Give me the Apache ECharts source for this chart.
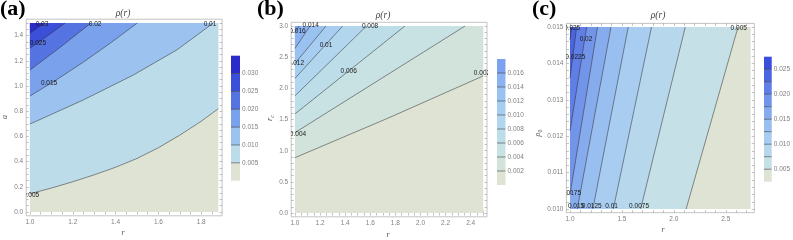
<!DOCTYPE html>
<html><head><meta charset="utf-8">
<script src="https://cdn.jsdelivr.net/npm/echarts@6/dist/echarts.min.js"></script>
<style>html,body{margin:0;padding:0;background:#fff}#c{width:793px;height:240px}</style>
</head><body><div id="c"></div><script>
// ---------------- panel (a) ----------------
const aXRange = [1.0, 1.88];
const aYRange = [0.0, 1.5];
const aBandEdges = [0, 0.005, 0.010, 0.015, 0.020, 0.025, 0.030, 0.035];
const aColors = ['#dfe3d3', '#bddcea', '#9cc3f0', '#7aa1ec', '#5574e2', '#3c4fd8', '#2a2bc8'];
const aLine005 = [[1.0,0.145],[1.1,0.19],[1.2,0.24],[1.3,0.295],[1.4,0.355],[1.5,0.425],[1.6,0.51],[1.7,0.61],[1.8,0.72],[1.88,0.82]];
const aLine010 = [[1.0,0.698],[1.249,0.889],[1.483,1.087],[1.686,1.286],[1.857,1.5]];
const aLine015 = [[1.0,0.92],[1.125,1.05],[1.25,1.19],[1.375,1.34],[1.502,1.5]];
const aLine020 = [[1.0,1.127],[1.14,1.305],[1.285,1.5]];
const aLine025 = [[1.0,1.30],[1.08,1.395],[1.164,1.5]];
const aLine030 = [[1.0,1.42],[1.07,1.5]];
const aLabels = [['0.03',1.056,1.49],['0.025',1.037,1.337],['0.02',1.304,1.49],['0.015',1.089,1.024],['0.01',1.841,1.49],['0.005',1.005,0.13]];
const aXTicks = [1.0, 1.2, 1.4, 1.6, 1.8];
const aYTicks = [0.0, 0.2, 0.4, 0.6, 0.8, 1.0, 1.2, 1.4];
const aBarLabels = [0.005, 0.010, 0.015, 0.020, 0.025, 0.030];

// ---------------- panel (b) ----------------
const bXRange = [1.0, 2.5];
const bYRange = [0.0, 3.0];
const bBandEdges = [0, 0.002, 0.004, 0.006, 0.008, 0.010, 0.012, 0.014, 0.016, 0.018];
const bColors = ['#dfe3d3', '#d2e3dc', '#c8e1e3', '#bddde9', '#b2d6ee', '#a7cdf0', '#9ac2f0', '#8bb3f0', '#7ca2ef'];
const bLine002 = [[1.0,0.888],[1.75,1.53],[2.5,2.20]];
const bLine004 = [[1.0,1.29],[2.355,3.0]];
const bLine006 = [[1.0,1.59],[1.876,3.0]];
const bLine008 = [[1.0,1.88],[1.57,3.0]];
const bLine010 = [[1.0,2.16],[1.38,3.0]];
const bLine012 = [[1.0,2.40],[1.247,3.0]];
const bLine014 = [[1.0,2.64],[1.12,3.0]];
const bLine016 = [[1.0,2.894],[1.035,3.0]];
const bLabels = [['0.016',1.02,2.91],['0.014',1.125,3.02],['0.012',1.008,2.41],['0.01',1.247,2.70],['0.008',1.598,3.0],['0.006',1.428,2.27],['0.004',1.024,1.263],['0.002',2.49,2.24]];
const bXTicks = [1.0, 1.2, 1.4, 1.6, 1.8, 2.0, 2.2, 2.4];
const bYTicks = [0.0, 0.5, 1.0, 1.5, 2.0, 2.5, 3.0];
const bBarLabels = [0.002, 0.004, 0.006, 0.008, 0.010, 0.012, 0.014, 0.016];

// ---------------- panel (c) ----------------
const cXRange = [1.0, 2.74];
const cYRange = [0.010, 0.015];
const cBandEdges = [0.0025, 0.005, 0.0075, 0.010, 0.0125, 0.015, 0.0175, 0.020, 0.0225, 0.025, 0.0275];
const cColors = ['#dfe3d3', '#c5e0e6', '#b7d8ec', '#a8cdf0', '#98bff0', '#86acee', '#7295ea', '#5f7ee6', '#4b65e0', '#3a4fda'];
const cLine0050 = [[2.118,0.010],[2.618,0.015]];
const cLine0075 = [[1.68,0.010],[2.11,0.015]];
const cLine0100 = [[1.417,0.010],[1.785,0.015]];
const cLine0125 = [[1.22,0.010],[1.561,0.015]];
const cLine0150 = [[1.07,0.010],[1.395,0.015]];
const cLine0175 = [[1.0,0.0104],[1.265,0.015]];
const cLine0200 = [[1.0,0.01214],[1.16,0.015]];
const cLine0225 = [[1.0,0.0136],[1.064,0.015]];
const cLine0250 = [[1.0,0.01465],[1.015,0.015]];
const cLabels = [['0.025',1.02,0.01497],['0.02',1.154,0.01466],['0.0225',1.051,0.01418],['0.0175',1.01,0.01043],['0.015',1.058,0.01007],['0.0125',1.209,0.01007],['0.01',1.40,0.01007],['0.0075',1.665,0.01007],['0.005',2.625,0.01498]];
const cXTicks = [1.0, 1.5, 2.0, 2.5];
const cYTicks = [0.010, 0.011, 0.012, 0.013, 0.014, 0.015];
const cBarLabels = [0.005, 0.010, 0.015, 0.020, 0.025];

// ---------------- helpers ----------------
const SANS = 'Liberation Sans';
const SERIF = 'Liberation Serif';
function padRange(r){ const d = (r[1]-r[0])*0.02; return [r[0]-d, r[1]+d]; }
function minorTicks(lo, hi, step){ const n = Math.round((hi-lo)/step); const out=[]; for(let i=0;i<=n;i++) out.push(+(lo+i*step).toFixed(7)); return out; }
function closeRegion(line, xr, yr){
  const ex = (xr[1]-xr[0])*1e-3, ey = (yr[1]-yr[0])*1e-3;
  const pts = line.slice();
  const first = pts[0], last = pts[pts.length-1];
  if (last[0] >= xr[1]-ex && last[1] < yr[1]-ey) pts.push([xr[1], yr[1]]);
  pts.push([xr[0], yr[1]]);
  if (first[1] <= yr[0]+ey && first[0] > xr[0]+ex) pts.push([xr[0], yr[0]]);
  return pts;
}

const panels = [
  {grid:{left:26.2, top:19.2, width:195.9, height:196.6}, xr:aXRange, yr:aYRange, colors:aColors,
   lines:[aLine005,aLine010,aLine015,aLine020,aLine025,aLine030], labels:aLabels,
   xTicks:aXTicks, yTicks:aYTicks, xMinor:0.05, yMinor:0.05, xDec:1, yDec:1,
   bar:{left:231, top:55.7, width:9, height:125}, edges:aBandEdges, barLabels:aBarLabels},
  {grid:{left:291.2, top:22.3, width:195.8, height:194.5}, xr:bXRange, yr:bYRange, colors:bColors,
   lines:[bLine002,bLine004,bLine006,bLine008,bLine010,bLine012,bLine014,bLine016], labels:bLabels,
   xTicks:bXTicks, yTicks:bYTicks, xMinor:0.05, yMinor:0.1, xDec:1, yDec:1,
   bar:{left:497, top:59, width:8.5, height:126}, edges:bBandEdges, barLabels:bBarLabels},
  {grid:{left:566.4, top:23.4, width:187.9, height:189.3}, xr:cXRange, yr:cYRange, colors:cColors,
   lines:[cLine0050,cLine0075,cLine0100,cLine0125,cLine0150,cLine0175,cLine0200,cLine0225,cLine0250], labels:cLabels,
   xTicks:cXTicks, yTicks:cYTicks, xMinor:0.1, yMinor:0.0002, xDec:1, yDec:3,
   bar:{left:764, top:56.7, width:8.5, height:125}, edges:cBandEdges, barLabels:cBarLabels}
];

const grid = [], xAxis = [], yAxis = [], series = [];
const tickStyle = {color:'#9a9a9a', width:0.6};
const labelStyle = {fontSize:6.5, color:'#808080', fontFamily:SANS};

panels.forEach((p, i) => {
  grid.push(Object.assign({show:true, borderColor:'#b4b4b4', borderWidth:0.8, backgroundColor:'transparent'}, p.grid));
  const px = padRange(p.xr), py = padRange(p.yr);
  const xm = minorTicks(Math.ceil(px[0]/p.xMinor)*p.xMinor, px[1], p.xMinor).filter(v=>v>=px[0]&&v<=px[1]);
  const ym = minorTicks(Math.ceil(py[0]/p.yMinor)*p.yMinor, py[1], p.yMinor).filter(v=>v>=py[0]&&v<=py[1]);
  ['bottom','top'].forEach(pos => xAxis.push({
    gridIndex:i, type:'value', position:pos, min:px[0], max:px[1],
    axisLine:{show:false}, splitLine:{show:false},
    axisTick:{show:true, inside:true, length:2.5, lineStyle:tickStyle, customValues:xm},
    axisLabel:{show:pos==='bottom', customValues:p.xTicks, formatter:v=>(+v).toFixed(p.xDec), margin:3, ...labelStyle}
  }));
  ['left','right'].forEach(pos => yAxis.push({
    gridIndex:i, type:'value', position:pos, min:py[0], max:py[1],
    axisLine:{show:false}, splitLine:{show:false},
    axisTick:{show:true, inside:true, length:2.5, lineStyle:tickStyle, customValues:ym},
    axisLabel:{show:pos==='left', customValues:p.yTicks, formatter:v=>(+v).toFixed(p.yDec), margin:3, ...labelStyle}
  }));
  const xr = p.xr, yr = p.yr;
  const polys = [[[xr[0],yr[0]],[xr[1],yr[0]],[xr[1],yr[1]],[xr[0],yr[1]]]].concat(p.lines.map(l => closeRegion(l, xr, yr)));
  series.push({
    type:'custom', xAxisIndex:2*i, yAxisIndex:2*i, clip:true, silent:true, z:2,
    data: polys.map(() => [xr[0], yr[0]]),
    renderItem: (params, api) => ({type:'polygon', z2:params.dataIndex,
      shape:{points: polys[params.dataIndex].map(pt => api.coord(pt))},
      style:{fill: p.colors[params.dataIndex]}})
  });
  p.lines.forEach(l => series.push({
    type:'line', xAxisIndex:2*i, yAxisIndex:2*i, data:l, symbol:'none', showSymbol:false, silent:true, z:3,
    lineStyle:{color:'rgba(45,45,45,0.65)', width:0.8}
  }));
  series.push({
    type:'custom', xAxisIndex:2*i, yAxisIndex:2*i, clip:true, silent:true, z:4,
    data: p.labels.map(l => [l[1], l[2]]),
    renderItem: (params, api) => { const c = api.coord([api.value(0), api.value(1)]);
      return {type:'text', x:c[0], y:c[1], style:{text:p.labels[params.dataIndex][0], fontSize:6.5, fontFamily:SANS, fill:'#1a1a1a', align:'center', verticalAlign:'middle'}}; }
  });
});

panels.forEach((p, i) => {
  const gi = 3 + i;
  grid.push(Object.assign({show:false}, p.bar));
  xAxis.push({gridIndex:gi, type:'value', min:0, max:1, show:false});
  const e = p.edges;
  yAxis.push({gridIndex:gi, type:'value', position:'right', min:e[0], max:e[e.length-1],
    axisLine:{show:false}, splitLine:{show:false},
    axisTick:{show:true, length:3, lineStyle:{color:'#777', width:0.7}, customValues:e.slice(1, e.length-1)},
    axisLabel:{show:true, customValues:p.barLabels, formatter:v=>(+v).toFixed(3), margin:2, ...labelStyle}
  });
  series.push({
    type:'custom', xAxisIndex:6+i, yAxisIndex:6+i, silent:true, z:2,
    data: p.colors.map((c,k) => [0, e[k]]),
    renderItem: (params, api) => { const k = params.dataIndex;
      const p0 = api.coord([0, e[k]]), p1 = api.coord([1, e[k+1]]);
      const ch = [{type:'rect', z2:0, shape:{x:p0[0], y:p1[1], width:p1[0]-p0[0], height:p0[1]-p1[1]}, style:{fill:p.colors[k]}}];
      if (k < p.colors.length-1) ch.push({type:'line', z2:10, shape:{x1:p0[0], y1:p1[1], x2:p1[0], y2:p1[1]}, style:{stroke:'rgba(60,60,60,0.7)', lineWidth:0.8}});
      return {type:'group', children:ch}; }
  });
});

const panelLabelFont = 'bold 22px "Liberation Serif"';
const titleFont = 'italic 9.5px "Liberation Serif"';
const nameFont = 'italic 8px "Liberation Serif"';
const graphic = [
  {type:'text', x:0, y:9, style:{text:'(a)', font:panelLabelFont, fill:'#000', verticalAlign:'middle'}},
  {type:'text', x:257, y:9, style:{text:'(b)', font:panelLabelFont, fill:'#000', verticalAlign:'middle'}},
  {type:'text', x:532, y:9, style:{text:'(c)', font:panelLabelFont, fill:'#000', verticalAlign:'middle'}},
  {type:'text', x:123, y:13, style:{text:'ρ(r)', font:titleFont, fill:'#444', align:'center', verticalAlign:'middle'}},
  {type:'text', x:383, y:15, style:{text:'ρ(r)', font:titleFont, fill:'#444', align:'center', verticalAlign:'middle'}},
  {type:'text', x:658, y:15, style:{text:'ρ(r)', font:titleFont, fill:'#444', align:'center', verticalAlign:'middle'}},
  {type:'text', x:123, y:233, style:{text:'r', font:nameFont, fill:'#555', align:'center', verticalAlign:'middle'}},
  {type:'text', x:388, y:235, style:{text:'r', font:nameFont, fill:'#555', align:'center', verticalAlign:'middle'}},
  {type:'text', x:663, y:230, style:{text:'r', font:nameFont, fill:'#555', align:'center', verticalAlign:'middle'}},
  {type:'text', x:5, y:117, rotation:Math.PI/2, style:{text:'a', font:nameFont, fill:'#555', align:'center', verticalAlign:'middle'}},
  {type:'text', x:270, y:118, rotation:Math.PI/2, style:{text:'{m|r}{s|c}', align:'center', verticalAlign:'middle',
    rich:{m:{fontFamily:SERIF, fontStyle:'italic', fontSize:8, fill:'#555', color:'#555'}, s:{fontFamily:SERIF, fontStyle:'italic', fontSize:6, color:'#555', fill:'#555', padding:[4,0,0,0]}}}},
  {type:'text', x:538, y:133, rotation:Math.PI/2, style:{text:'{m|ρ}{s|0}', align:'center', verticalAlign:'middle',
    rich:{m:{fontFamily:SERIF, fontStyle:'italic', fontSize:8, fill:'#555', color:'#555'}, s:{fontFamily:SERIF, fontSize:6, color:'#555', fill:'#555', padding:[4,0,0,0]}}}}
];

const chart = echarts.init(document.getElementById('c'), null, {renderer:'canvas'});
chart.setOption({animation:false, grid, xAxis, yAxis, series, graphic});
</script></body></html>
